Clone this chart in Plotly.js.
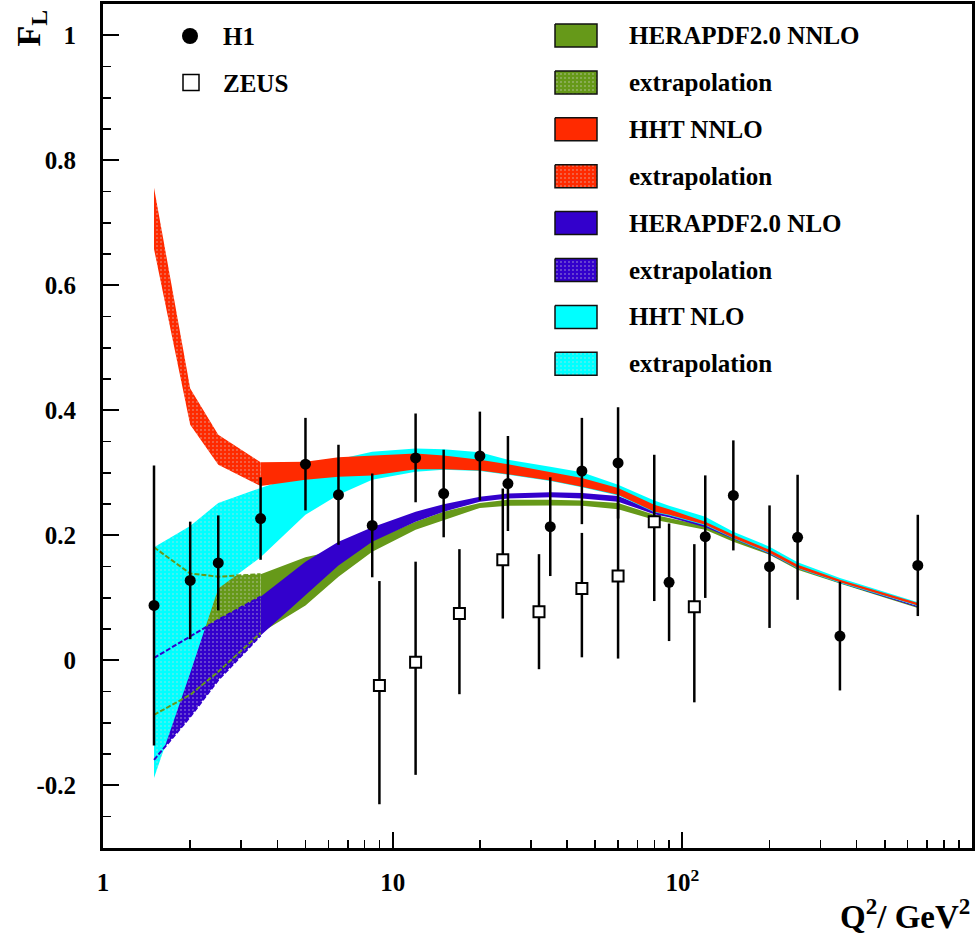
<!DOCTYPE html>
<html>
<head>
<meta charset="utf-8">
<script src="https://cdn.plot.ly/plotly-3.0.1.min.js"></script>
<style>html,body{margin:0;padding:0;background:#fff}#chart{width:978px;height:942px}</style>
</head>
<body>
<div id="chart"></div>
<script>
// ---------------- data ----------------
const h1Q2   = [1.5, 2, 2.5, 3.5, 5, 6.5, 8.5, 12, 15, 20, 25, 35, 45, 60, 90, 120, 150, 200, 250, 350, 650];
const h1FL   = [0.088, 0.128, 0.156, 0.227, 0.314, 0.265, 0.216, 0.324, 0.267, 0.327, 0.283, 0.214, 0.303, 0.316, 0.125, 0.198, 0.264, 0.150, 0.197, 0.039, 0.152];
const h1Err  = [0.224, 0.094, 0.076, 0.066, 0.074, 0.080, 0.083, 0.071, 0.070, 0.071, 0.076, 0.079, 0.085, 0.089, 0.094, 0.098, 0.088, 0.098, 0.100, 0.087, 0.081];

const zeusQ2      = [9, 12, 17, 24, 32, 45, 60, 80, 110];
const zeusFL      = [-0.040, -0.003, 0.075, 0.161, 0.078, 0.115, 0.135, 0.222, 0.086];
const zeusErrUp   = [0.167, 0.161, 0.103, 0.114, 0.092, 0.089, 0.120, 0.107, 0.100];
const zeusErrDown = [0.190, 0.180, 0.129, 0.094, 0.092, 0.110, 0.132, 0.127, 0.153];

const bandQ2 = [1.5, 2, 2.5, 3.5, 5, 6.5, 8.5, 12, 15, 20, 25, 35, 45, 60, 80, 90, 120, 150, 200, 250, 350, 650];
const heraNNLOHi = [0.181, 0.139, 0.134, 0.138, 0.165, 0.177, 0.192, 0.222, 0.238, 0.252, 0.257, 0.257, 0.256, 0.252, 0.233, 0.228, 0.215, 0.195, 0.171, 0.148, 0.125, 0.086];
const heraNNLOLo = [-0.087, -0.055, -0.018, 0.044, 0.088, 0.134, 0.174, 0.209, 0.225, 0.244, 0.2475, 0.248, 0.2475, 0.242, 0.225, 0.220, 0.209, 0.190, 0.169, 0.145, 0.123, 0.084];
const hhtNNLOHi  = [0.756, 0.435, 0.361, 0.317, 0.318, 0.325, 0.328, 0.331, 0.328, 0.321, 0.314, 0.302, 0.292, 0.276, 0.249, 0.242, 0.222, 0.201, 0.177, 0.153, 0.129, 0.092];
const hhtNNLOLo  = [0.658, 0.377, 0.313, 0.279, 0.289, 0.294, 0.296, 0.306, 0.306, 0.304, 0.298, 0.288, 0.278, 0.265, 0.238, 0.233, 0.217, 0.196, 0.172, 0.148, 0.125, 0.088];
const heraNLOHi  = [0.004, 0.039, 0.065, 0.102, 0.158, 0.190, 0.213, 0.238, 0.250, 0.262, 0.267, 0.269, 0.268, 0.263, 0.240, 0.235, 0.218, 0.198, 0.174, 0.150, 0.126, 0.087];
const heraNLOLo  = [-0.159, -0.090, -0.031, 0.040, 0.105, 0.152, 0.190, 0.222, 0.238, 0.254, 0.259, 0.261, 0.259, 0.254, 0.234, 0.229, 0.213, 0.194, 0.170, 0.147, 0.124, 0.085];
const hhtNLOHi   = [0.181, 0.215, 0.252, 0.276, 0.300, 0.322, 0.334, 0.339, 0.338, 0.333, 0.321, 0.310, 0.301, 0.281, 0.256, 0.2475, 0.230, 0.206, 0.182, 0.157, 0.132, 0.093];
const hhtNLOLo   = [-0.188, -0.020, 0.115, 0.165, 0.233, 0.265, 0.289, 0.302, 0.305, 0.303, 0.297, 0.287, 0.277, 0.264, 0.237, 0.232, 0.216, 0.195, 0.171, 0.147, 0.124, 0.087];
const extrapEnd = 3; // index of Q2 = 3.5, end of extrapolation region

const yTickVals = [-0.2, 0, 0.2, 0.4, 0.6, 0.8, 1];
const yTickText = ['-0.2', '0', '0.2', '0.4', '0.6', '0.8', '1'];
const xTickVals = [1, 10, 100];
const xTickText = ['1', '10', '10<sup>2</sup>'];

const legendNames = ['HERAPDF2.0 NNLO', 'extrapolation', 'HHT NNLO', 'extrapolation',
                     'HERAPDF2.0 NLO', 'extrapolation', 'HHT NLO', 'extrapolation'];

// ---------------- styling ----------------
const GREEN = '#669919', RED = '#ff2a00', BLUE = '#3300cc', CYAN = '#00ffff';
const FONT = 'Liberation Serif, "Times New Roman", Times, serif';
const TXT = 25;

function dotPattern(col) {
  return {shape: '.', bgcolor: col, fgcolor: '#d8d8d8', fgopacity: 0.9, size: 4, solidity: 0.08, fillmode: 'replace'};
}
function bandTrace(q, hi, lo, col, extrap) {
  const x = q.concat(q.slice().reverse());
  const y = hi.concat(lo.slice().reverse());
  const t = {x: x, y: y, type: 'scatter', mode: 'lines', fill: 'toself', fillcolor: col,
             line: {width: 0, color: col}, hoverinfo: 'skip', showlegend: false};
  if (extrap) t.fillpattern = dotPattern(col);
  return t;
}
function bandPair(hi, lo, col) {
  const qa = bandQ2.slice(0, extrapEnd + 1), qb = bandQ2.slice(extrapEnd);
  return [bandTrace(qb, hi.slice(extrapEnd), lo.slice(extrapEnd), col, false),
          bandTrace(qa, hi.slice(0, extrapEnd + 1), lo.slice(0, extrapEnd + 1), col, true)];
}
function edgeLine(vals, col) {
  return {x: bandQ2.slice(0, extrapEnd + 1), y: vals.slice(0, extrapEnd + 1), type: 'scatter', mode: 'lines',
          line: {color: col, width: 2, dash: '5px,2px'}, hoverinfo: 'skip', showlegend: false};
}

const traces = [];
traces.push(...bandPair(heraNNLOHi, heraNNLOLo, GREEN));
traces.push(...bandPair(heraNLOHi, heraNLOLo, BLUE));
traces.push(...bandPair(hhtNLOHi, hhtNLOLo, CYAN));
traces.push(...bandPair(hhtNNLOHi, hhtNNLOLo, RED));
traces.push(edgeLine(heraNNLOHi, GREEN), edgeLine(heraNNLOLo, GREEN));
traces.push(edgeLine(heraNLOHi, BLUE), edgeLine(heraNLOLo, BLUE));

traces.push({x: zeusQ2, y: zeusFL, type: 'scatter', mode: 'markers', showlegend: false,
  marker: {symbol: 'square', size: 11, color: 'white', line: {color: 'black', width: 2}},
  error_y: {type: 'data', symmetric: false, array: zeusErrUp, arrayminus: zeusErrDown, thickness: 2.5, width: 0, color: 'black'}});
traces.push({x: h1Q2, y: h1FL, type: 'scatter', mode: 'markers', showlegend: false,
  marker: {symbol: 'circle', size: 11, color: 'black'},
  error_y: {type: 'data', array: h1Err, thickness: 2.5, width: 0, color: 'black'}});

// ---- legend drawn on a pixel-like overlay axis ----
const legendCols = [GREEN, GREEN, RED, RED, BLUE, BLUE, CYAN, CYAN];
const rowY0 = 35.5, rowStep = 46.9;
const annotations = [];
legendNames.forEach((nm, i) => {
  const cy = rowY0 + i * rowStep;
  const t = {x: [555, 597, 597, 555, 555], y: [cy - 11.5, cy - 11.5, cy + 11.5, cy + 11.5, cy - 11.5],
    xaxis: 'x2', yaxis: 'y2', type: 'scatter', mode: 'lines', fill: 'toself', fillcolor: legendCols[i],
    line: {color: '#111', width: 1.5}, hoverinfo: 'skip', showlegend: false};
  if (i % 2 === 1) t.fillpattern = dotPattern(legendCols[i]);
  traces.push(t);
  annotations.push({xref: 'x2', yref: 'y2', x: 627, y: cy, text: nm, showarrow: false,
    xanchor: 'left', yanchor: 'middle', font: {family: FONT, size: TXT, weight: 'bold', color: 'black'}});
});
traces.push({x: [190], y: [36], xaxis: 'x2', yaxis: 'y2', type: 'scatter', mode: 'markers', showlegend: false,
  marker: {symbol: 'circle', size: 16, color: 'black'}, hoverinfo: 'skip'});
traces.push({x: [191], y: [82.5], xaxis: 'x2', yaxis: 'y2', type: 'scatter', mode: 'markers', showlegend: false,
  marker: {symbol: 'square', size: 16, color: 'white', line: {color: 'black', width: 1.5}}, hoverinfo: 'skip'});
annotations.push({xref: 'x2', yref: 'y2', x: 221, y: 36, text: 'H1', showarrow: false, xanchor: 'left', yanchor: 'middle',
  font: {family: FONT, size: TXT, weight: 'bold', color: 'black'}});
annotations.push({xref: 'x2', yref: 'y2', x: 221, y: 83, text: 'ZEUS', showarrow: false, xanchor: 'left', yanchor: 'middle',
  font: {family: FONT, size: TXT, weight: 'bold', color: 'black'}});

// axis titles
annotations.push({xref: 'paper', yref: 'paper', x: 1.0, y: -0.106, xanchor: 'right', yanchor: 'bottom',
  text: 'Q<sup>2</sup>/ GeV<sup>2</sup>', showarrow: false, font: {family: FONT, size: 33, weight: 'bold', color: 'black'}});
annotations.push({xref: 'paper', yref: 'paper', x: -0.083, y: 0.972, xanchor: 'center', yanchor: 'middle', textangle: -90,
  text: 'F<sub>L</sub>', showarrow: false, font: {family: FONT, size: 34, weight: 'bold', color: 'black'}});

const yMinor = [];
for (let k = -6; k <= 21; k++) { if (k % 4 !== 0) yMinor.push(+(k * 0.05).toFixed(2)); }
const xMinor = [];
[1, 10, 100].forEach(d => { for (let m = 2; m <= 9; m++) xMinor.push(m * d); });

const tickFont = {family: FONT, size: TXT, weight: 'bold', color: 'black'};
const layout = {
  width: 978, height: 942,
  margin: {l: 103, r: 6, t: 4, b: 94},
  paper_bgcolor: 'white', plot_bgcolor: 'white',
  font: {family: FONT, color: 'black'},
  showlegend: false,
  xaxis: {type: 'log', range: [0, 3], showgrid: false, zeroline: false,
    showline: true, mirror: true, linewidth: 3, linecolor: 'black',
    ticks: 'inside', ticklen: 16, tickwidth: 2, tickcolor: 'black',
    tickmode: 'array', tickvals: xTickVals, ticktext: xTickText, tickfont: tickFont, ticklabelstandoff: 10,
    minor: {tickmode: 'array', tickvals: xMinor, ticks: 'inside', ticklen: 8, tickwidth: 1.5, tickcolor: 'black', showgrid: false}},
  yaxis: {range: [-0.3, 1.05], showgrid: false, zeroline: false,
    showline: true, mirror: true, linewidth: 3, linecolor: 'black',
    ticks: 'inside', ticklen: 16, tickwidth: 2, tickcolor: 'black',
    tickmode: 'array', tickvals: yTickVals, ticktext: yTickText, tickfont: tickFont, ticklabelstandoff: 19,
    minor: {tickmode: 'array', tickvals: yMinor, ticks: 'inside', ticklen: 8, tickwidth: 1.5, tickcolor: 'black', showgrid: false}},
  xaxis2: {overlaying: 'x', anchor: 'y2', range: [103, 972], visible: false, fixedrange: true},
  yaxis2: {overlaying: 'y', anchor: 'x2', range: [848, 4], visible: false, fixedrange: true},
  annotations: annotations
};

Plotly.newPlot('chart', traces, layout, {displayModeBar: false, staticPlot: true});
</script>
</body>
</html>
